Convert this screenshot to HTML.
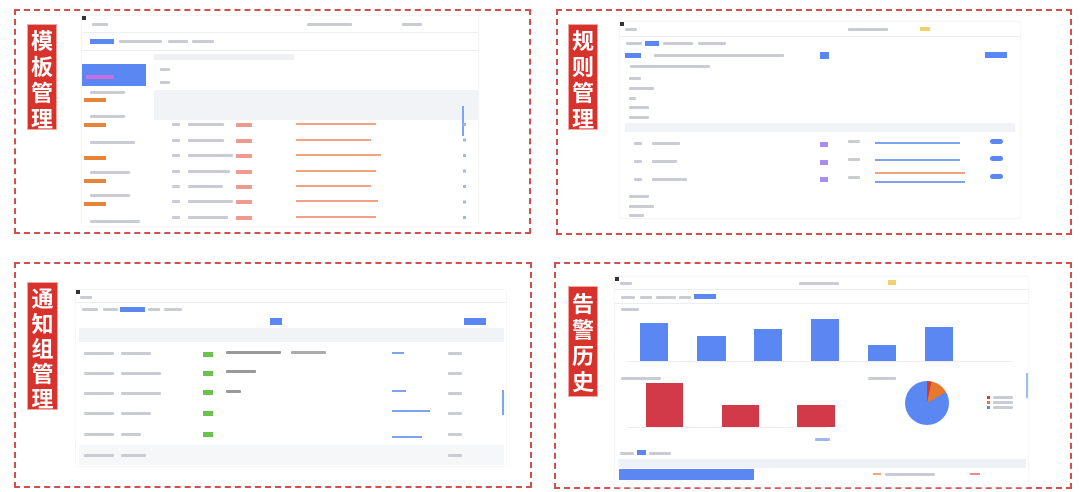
<!DOCTYPE html>
<html><head><meta charset="utf-8"><style>
*{margin:0;padding:0;box-sizing:border-box}
body{width:1080px;height:492px;background:#fff;position:relative;overflow:hidden;font-family:"Liberation Sans","Noto Sans CJK SC",sans-serif}
.a{position:absolute}
.box{position:absolute;border:2px dashed #d2504c}
.lab{position:absolute;background:#d8322c;color:#fff;font-size:22px;font-weight:bold;line-height:26px;text-align:center;border:1px solid #f3a6a0;font-family:"Noto Sans CJK SC",sans-serif}
.shot{position:absolute;background:#fff;box-shadow:0 0 2px #e4e4e4}
.ln{position:absolute;height:1px;background:#eceef2}
.t{position:absolute;height:3px;background:#c9ccd2;border-radius:1px}
.bl{background:#5b87f2}
.or{background:#e8843a}
.rd{background:#ef9a8e}
</style></head><body>

<!-- TL -->
<div class="box" style="left:14px;top:9px;width:517px;height:225px"></div>
<div class="lab" style="left:27px;top:24px;width:30px;height:106px;padding-top:2px">模<br>板<br>管<br>理</div>
<div class="shot" style="left:82px;top:16px;width:396px;height:210px">
 <div class="a" style="left:0;top:0;width:4px;height:4px;background:#333"></div>
 <div class="t" style="left:10px;top:7px;width:16px"></div>
 <div class="t" style="left:225px;top:7px;width:45px"></div>
 <div class="t" style="left:320px;top:7px;width:20px"></div>
 <div class="ln" style="left:0;top:16px;width:396px"></div>
 <div class="a bl" style="left:8px;top:23px;width:24px;height:5px"></div>
 <div class="t" style="left:37px;top:24px;width:20px"></div><div class="t" style="left:55px;top:24px;width:25px"></div><div class="t" style="left:86px;top:24px;width:20px"></div><div class="t" style="left:110px;top:24px;width:22px"></div>
 <div class="ln" style="left:0;top:34px;width:396px"></div>
 <div class="a bl" style="left:0;top:48px;width:64px;height:22px"></div>
 <div class="a" style="left:4px;top:59px;width:28px;height:4px;background:#c96fe0"></div>
 <div class="a or" style="left:2px;top:82px;width:22px;height:4px"></div>
 <div class="a or" style="left:2px;top:107px;width:22px;height:4px"></div>
 <div class="a or" style="left:2px;top:140px;width:22px;height:4px"></div>
 <div class="a or" style="left:2px;top:163px;width:22px;height:4px"></div>
 <div class="a or" style="left:2px;top:186px;width:22px;height:4px"></div>
 <div class="t" style="left:8px;top:75px;width:35px"></div><div class="t" style="left:8px;top:99px;width:35px"></div><div class="t" style="left:8px;top:125px;width:45px"></div><div class="t" style="left:8px;top:155px;width:40px"></div><div class="t" style="left:8px;top:178px;width:40px"></div><div class="t" style="left:8px;top:204px;width:50px"></div>
 <div class="a" style="left:72px;top:74px;width:324px;height:30px;background:#f1f3f7"></div>
 <div class="a" style="left:72px;top:38px;width:140px;height:6px;background:#eef0f3"></div>
 <div class="t" style="left:78px;top:52px;width:10px"></div><div class="t" style="left:78px;top:65px;width:10px"></div>
 <div class="a" style="left:380px;top:90px;width:2px;height:30px;background:#7aa6f4"></div>
</div>
<!-- TL rows -->
<div class="a" style="left:170px;top:123px;width:300px;height:100px">
 <div class="t" style="left:2px;top:0;width:8px"></div><div class="t" style="left:2px;top:16px;width:8px"></div><div class="t" style="left:2px;top:31px;width:8px"></div><div class="t" style="left:2px;top:47px;width:8px"></div><div class="t" style="left:2px;top:62px;width:8px"></div><div class="t" style="left:2px;top:77px;width:8px"></div><div class="t" style="left:2px;top:93px;width:8px"></div>
 <div class="t" style="left:18px;top:0;width:36px"></div><div class="t" style="left:18px;top:16px;width:36px"></div><div class="t" style="left:18px;top:31px;width:45px"></div><div class="t" style="left:18px;top:47px;width:42px"></div><div class="t" style="left:18px;top:62px;width:35px"></div><div class="t" style="left:18px;top:77px;width:45px"></div><div class="t" style="left:18px;top:93px;width:40px"></div>
</div>
<div class="a" style="left:236px;top:123px;width:230px;height:100px">
 <div class="a rd" style="left:0;top:0;width:16px;height:4px"></div><div class="a rd" style="left:0;top:16px;width:16px;height:4px"></div><div class="a rd" style="left:0;top:31px;width:16px;height:4px"></div><div class="a rd" style="left:0;top:47px;width:16px;height:4px"></div><div class="a rd" style="left:0;top:62px;width:16px;height:4px"></div><div class="a rd" style="left:0;top:77px;width:16px;height:4px"></div><div class="a rd" style="left:0;top:93px;width:16px;height:4px"></div>
 <div class="a" style="left:60px;top:0;width:80px;height:2px;background:#f0a383"></div><div class="a" style="left:60px;top:16px;width:75px;height:2px;background:#f0a383"></div><div class="a" style="left:60px;top:31px;width:85px;height:2px;background:#f0a383"></div><div class="a" style="left:60px;top:47px;width:80px;height:2px;background:#f0a383"></div><div class="a" style="left:60px;top:62px;width:75px;height:2px;background:#f0a383"></div><div class="a" style="left:60px;top:77px;width:82px;height:2px;background:#f0a383"></div><div class="a" style="left:60px;top:93px;width:80px;height:2px;background:#f0a383"></div>
 <div class="a" style="left:227px;top:0;width:3px;height:97px;background:repeating-linear-gradient(#9db8f0 0 3px,transparent 3px 15.5px)"></div>
</div>

<!-- TR -->
<div class="box" style="left:556px;top:9px;width:516px;height:226px"></div>
<div class="lab" style="left:568px;top:24px;width:30px;height:106px;padding-top:2px">规<br>则<br>管<br>理</div>
<div class="shot" style="left:620px;top:22px;width:400px;height:196px">
 <div class="a" style="left:0;top:0;width:4px;height:4px;background:#333"></div>
 <div class="t" style="left:5px;top:6px;width:12px"></div><div class="t" style="left:228px;top:6px;width:40px"></div>
 <div class="a" style="left:300px;top:5px;width:10px;height:4px;background:#f2cf6e"></div>
 <div class="ln" style="left:0;top:14px;width:400px"></div>
 <div class="t" style="left:6px;top:20px;width:16px"></div><div class="a bl" style="left:25px;top:19px;width:14px;height:5px"></div><div class="t" style="left:43px;top:20px;width:30px"></div><div class="t" style="left:78px;top:20px;width:28px"></div>
 <div class="a bl" style="left:5px;top:31px;width:16px;height:5px"></div>
 <div class="t" style="left:34px;top:32px;width:130px"></div>
 <div class="a bl" style="left:200px;top:30px;width:9px;height:7px"></div>
 <div class="a bl" style="left:365px;top:30px;width:22px;height:6px"></div>
 <div class="t" style="left:10px;top:43px;width:80px"></div>
 <div class="t" style="left:9px;top:55px;width:12px"></div><div class="t" style="left:9px;top:65px;width:25px"></div><div class="t" style="left:9px;top:75px;width:7px"></div><div class="t" style="left:9px;top:84px;width:20px"></div><div class="t" style="left:9px;top:94px;width:20px"></div>
 <div class="a" style="left:5px;top:101px;width:390px;height:9px;background:#f1f3f7"></div>
 <div class="t" style="left:14px;top:120px;width:8px"></div><div class="t" style="left:32px;top:120px;width:28px"></div>
 <div class="t" style="left:14px;top:138px;width:8px"></div><div class="t" style="left:32px;top:138px;width:25px"></div>
 <div class="t" style="left:14px;top:156px;width:8px"></div><div class="t" style="left:32px;top:156px;width:35px"></div>
 <div class="t" style="left:228px;top:118px;width:12px"></div><div class="t" style="left:228px;top:136px;width:12px"></div><div class="t" style="left:228px;top:154px;width:12px"></div>
 <div class="a" style="left:200px;top:120px;width:8px;height:5px;background:#a58ef0"></div>
 <div class="a" style="left:200px;top:138px;width:8px;height:5px;background:#a58ef0"></div>
 <div class="a" style="left:200px;top:155px;width:8px;height:5px;background:#a58ef0"></div>
 <div class="a" style="left:255px;top:120px;width:85px;height:2px;background:#7ea3ee"></div>
 <div class="a" style="left:255px;top:137px;width:85px;height:2px;background:#7ea3ee"></div>
 <div class="a" style="left:255px;top:150px;width:90px;height:2px;background:#f0a383"></div>
 <div class="a" style="left:255px;top:159px;width:90px;height:2px;background:#7ea3ee"></div>
 <div class="a bl" style="left:370px;top:117px;width:13px;height:5px;border-radius:3px"></div>
 <div class="a bl" style="left:370px;top:134px;width:13px;height:5px;border-radius:3px"></div>
 <div class="a bl" style="left:370px;top:152px;width:13px;height:5px;border-radius:3px"></div>
 <div class="t" style="left:9px;top:173px;width:20px"></div><div class="t" style="left:9px;top:183px;width:25px"></div><div class="t" style="left:9px;top:192px;width:15px"></div>
</div>

<!-- BL -->
<div class="box" style="left:14px;top:262px;width:518px;height:226px"></div>
<div class="lab" style="left:27px;top:282px;width:31px;height:128px;padding-top:3px;line-height:25px">通<br>知<br>组<br>管<br>理</div>
<div class="shot" style="left:76px;top:290px;width:430px;height:176px">
 <div class="a" style="left:0;top:0;width:4px;height:4px;background:#333"></div>
 <div class="t" style="left:4px;top:6px;width:12px"></div>
 <div class="ln" style="left:0;top:12px;width:430px"></div>
 <div class="t" style="left:6px;top:18px;width:16px"></div><div class="t" style="left:27px;top:18px;width:15px"></div><div class="a bl" style="left:44px;top:17px;width:25px;height:5px"></div><div class="t" style="left:72px;top:18px;width:12px"></div><div class="t" style="left:88px;top:18px;width:18px"></div>
 <div class="a bl" style="left:194px;top:28px;width:12px;height:7px"></div>
 <div class="a bl" style="left:388px;top:28px;width:22px;height:7px"></div>
 <div class="a" style="left:3px;top:38px;width:425px;height:14px;background:#f1f3f7"></div>
 <div class="a" style="left:127px;top:62px;width:10px;height:5px;background:#6cc14d"></div>
 <div class="a" style="left:127px;top:81px;width:10px;height:5px;background:#6cc14d"></div>
 <div class="a" style="left:127px;top:100px;width:10px;height:5px;background:#6cc14d"></div>
 <div class="a" style="left:127px;top:121px;width:10px;height:5px;background:#6cc14d"></div>
 <div class="a" style="left:127px;top:142px;width:10px;height:5px;background:#6cc14d"></div>
 <div class="a" style="left:127px;top:163px;width:10px;height:5px;background:#6cc14d"></div>
 <div class="t" style="left:150px;top:61px;width:55px;background:#999"></div><div class="t" style="left:215px;top:61px;width:35px;background:#aaa"></div>
 <div class="t" style="left:150px;top:80px;width:30px;background:#999"></div><div class="t" style="left:150px;top:100px;width:15px;background:#999"></div>
 <div class="a" style="left:316px;top:62px;width:12px;height:2px;background:#7ea3ee"></div>
 <div class="a" style="left:316px;top:100px;width:14px;height:2px;background:#7ea3ee"></div>
 <div class="a" style="left:316px;top:120px;width:38px;height:2px;background:#7ea3ee"></div>
 <div class="a" style="left:316px;top:146px;width:30px;height:2px;background:#7ea3ee"></div>
 <div class="a" style="left:3px;top:155px;width:425px;height:20px;background:#f6f7f9"></div>
 <div class="t" style="left:8px;top:62px;width:30px"></div><div class="t" style="left:8px;top:82px;width:30px"></div><div class="t" style="left:8px;top:102px;width:30px"></div><div class="t" style="left:8px;top:122px;width:30px"></div><div class="t" style="left:8px;top:143px;width:30px"></div><div class="t" style="left:8px;top:164px;width:30px"></div>
 <div class="t" style="left:45px;top:62px;width:30px"></div><div class="t" style="left:45px;top:82px;width:40px"></div><div class="t" style="left:45px;top:102px;width:40px"></div><div class="t" style="left:45px;top:122px;width:30px"></div><div class="t" style="left:45px;top:143px;width:20px"></div><div class="t" style="left:45px;top:164px;width:25px"></div>
 <div class="t" style="left:372px;top:62px;width:14px"></div><div class="t" style="left:372px;top:82px;width:14px"></div><div class="t" style="left:372px;top:102px;width:14px"></div><div class="t" style="left:372px;top:122px;width:14px"></div><div class="t" style="left:372px;top:143px;width:14px"></div><div class="t" style="left:372px;top:164px;width:14px"></div>
 <div class="a" style="left:426px;top:100px;width:2px;height:25px;background:#7aa6f4"></div>
</div>

<!-- BR -->
<div class="box" style="left:554px;top:262px;width:518px;height:227px"></div>
<div class="lab" style="left:568px;top:286px;width:30px;height:111px;padding-top:3px">告<br>警<br>历<br>史</div>
<div class="shot" style="left:615px;top:277px;width:413px;height:210px">
 <div class="a" style="left:0;top:0;width:4px;height:4px;background:#333"></div>
 <div class="t" style="left:5px;top:5px;width:12px"></div><div class="t" style="left:184px;top:5px;width:40px"></div>
 <div class="a" style="left:273px;top:3px;width:8px;height:5px;background:#f2cf6e"></div>
 <div class="ln" style="left:0;top:12px;width:413px"></div>
 <div class="t" style="left:6px;top:19px;width:14px"></div><div class="t" style="left:25px;top:19px;width:12px"></div><div class="t" style="left:41px;top:19px;width:20px"></div><div class="t" style="left:64px;top:19px;width:12px"></div><div class="a bl" style="left:79px;top:17px;width:22px;height:5px"></div>
 <div class="ln" style="left:0;top:26px;width:413px"></div>
 <div class="t" style="left:6px;top:31px;width:18px"></div>
 <div class="ln" style="left:12px;top:84px;width:385px"></div>
 <div class="a bl" style="left:25px;top:46px;width:28px;height:38px"></div>
 <div class="a bl" style="left:82px;top:59px;width:29px;height:25px"></div>
 <div class="a bl" style="left:139px;top:52px;width:28px;height:32px"></div>
 <div class="a bl" style="left:196px;top:42px;width:28px;height:42px"></div>
 <div class="a bl" style="left:253px;top:68px;width:28px;height:16px"></div>
 <div class="a bl" style="left:310px;top:50px;width:28px;height:34px"></div>
 <div class="t" style="left:6px;top:100px;width:40px"></div>
 <div class="a" style="left:31px;top:106px;width:37px;height:44px;background:#d23a49"></div>
 <div class="a" style="left:107px;top:128px;width:37px;height:22px;background:#d23a49"></div>
 <div class="a" style="left:182px;top:128px;width:38px;height:22px;background:#d23a49"></div>
 <div class="ln" style="left:12px;top:150px;width:200px"></div>
 <div class="t" style="left:200px;top:161px;width:15px;background:#9db8f0"></div>
 <div class="t" style="left:253px;top:100px;width:28px"></div>
 <div class="a" style="left:290px;top:104px;width:44px;height:44px;border-radius:50%;background:conic-gradient(#d23a2d 0 12deg,#e8792c 12deg 60deg,#5b87f2 60deg 360deg)"></div>
 <div class="a" style="left:372px;top:119px;width:3px;height:3px;background:#d23a2d"></div><div class="t" style="left:378px;top:119px;width:20px"></div>
 <div class="a" style="left:372px;top:124px;width:3px;height:3px;background:#e8792c"></div><div class="t" style="left:378px;top:124px;width:20px"></div>
 <div class="a" style="left:372px;top:129px;width:3px;height:3px;background:#5b87f2"></div><div class="t" style="left:378px;top:129px;width:20px"></div>
 <div class="a" style="left:411px;top:96px;width:2px;height:25px;background:#9cbcf4"></div>
 <div class="t" style="left:5px;top:175px;width:14px"></div><div class="a bl" style="left:22px;top:173px;width:9px;height:5px"></div><div class="t" style="left:34px;top:175px;width:22px"></div>
 <div class="a" style="left:3px;top:182px;width:408px;height:9px;background:#eef1f6"></div>
 <div class="a bl" style="left:4px;top:192px;width:135px;height:11px"></div>
 <div class="a" style="left:258px;top:196px;width:8px;height:2px;background:#f0a383"></div>
 <div class="t" style="left:270px;top:196px;width:50px"></div>
 <div class="a" style="left:355px;top:196px;width:10px;height:2px;background:#ef8a8a"></div>
</div>
</body></html>
